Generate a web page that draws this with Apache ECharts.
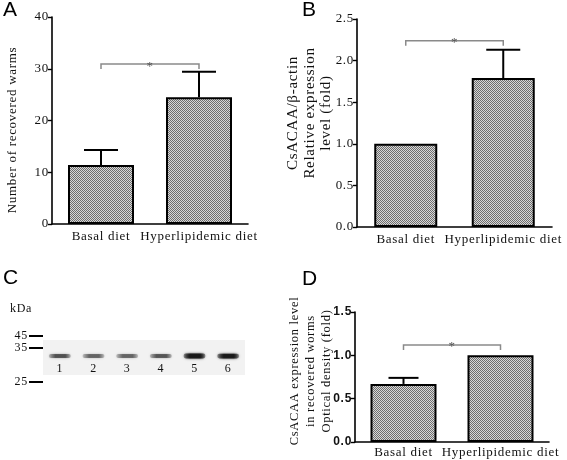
<!DOCTYPE html>
<html><head><meta charset="utf-8">
<script src="https://cdn.jsdelivr.net/npm/echarts@6/dist/echarts.min.js"></script>
<style>html,body{margin:0;padding:0;background:#fff}#c{width:567px;height:460px}</style>
</head><body><div id="c"></div>
<script>
// ---------- data ----------
const categories = ['Basal diet', 'Hyperlipidemic diet'];
// Panel A: number of recovered worms (mean, SEM)
const wormMean = [11.4, 24.5];
const wormSem = [2.9, 4.9];
const wormSigLevel = 30.9;
// Panel B: CsACAA / beta-actin relative expression (fold)
const mrnaMean = [1.0, 1.79];
const mrnaSem = [0, 0.34];
const mrnaSigLevel = 2.24;
// Panel D: CsACAA expression in recovered worms, optical density (fold)
const odMean = [0.67, 1.0];
const odSem = [0.07, 0];
const odSigLevel = 1.12;
// Panel C: western blot
const blotLanes = ['1', '2', '3', '4', '5', '6'];
const bandIntensity = [0.6, 0.52, 0.52, 0.58, 0.92, 0.9];
const bandMigration = [30, 30, 30, 30, 30, 30];
const markerKda = [45, 35, 25];
const markerMigration = [10, 22, 56];
const blotArea = [14, 49];          // migration range of the membrane strip
const laneLabelMigration = 43;

// ---------- letter spacing for the serif GraphPad look ----------
(function () {
  const orig = HTMLCanvasElement.prototype.getContext;
  HTMLCanvasElement.prototype.getContext = function () {
    const c = orig.apply(this, arguments);
    if (c && 'letterSpacing' in c) c.letterSpacing = '0.7px';
    return c;
  };
})();

function makePattern() {
  const c = document.createElement('canvas');
  c.width = 2; c.height = 2;
  const x = c.getContext('2d');
  x.fillStyle = '#d8d8d8'; x.fillRect(0, 0, 2, 2);
  x.fillStyle = '#6e6e6e'; x.fillRect(0, 0, 1, 1); x.fillRect(1, 1, 1, 1);
  return c;
}
const pattern = { image: makePattern(), repeat: 'repeat' };

const SERIF = '"Liberation Serif", "Times New Roman", serif';
const SANS = '"Liberation Sans", Arial, sans-serif';

function xAxisFor(gi, margin) {
  return {
    type: 'category', gridIndex: gi, data: categories,
    axisLine: { lineStyle: { color: '#000', width: 1.6 } },
    axisTick: { alignWithLabel: true, length: 4, lineStyle: { color: '#000', width: 1.4 } },
    axisLabel: { fontFamily: SERIF, fontSize: 13, color: '#111', margin: margin, interval: 0, hideOverlap: false },
    splitLine: { show: false }
  };
}
function yAxisFor(gi, max, interval, labelFont, fmt) {
  return {
    type: 'value', gridIndex: gi, min: 0, max: max, interval: interval,
    axisLine: { show: true, lineStyle: { color: '#000', width: 1.6 } },
    axisTick: { show: true, length: 4, lineStyle: { color: '#000', width: 1.4 } },
    splitLine: { show: false },
    axisLabel: Object.assign({ color: '#111', margin: 3, formatter: fmt }, labelFont)
  };
}

function barSeries(gi, data, width) {
  return {
    type: 'bar', xAxisIndex: gi, yAxisIndex: gi, data: data, barWidth: width,
    itemStyle: { color: pattern, borderColor: '#000', borderWidth: 2 },
    silent: true, animation: false
  };
}
function errorSeries(gi, mean, sem, cap) {
  return {
    type: 'custom', xAxisIndex: gi, yAxisIndex: gi, animation: false, silent: true, z: 3,
    data: mean.map((m, i) => [i, m, sem[i]]),
    renderItem: function (params, api) {
      const s = api.value(2);
      if (!s) return null;
      const p0 = api.coord([api.value(0), api.value(1)]);
      const p1 = api.coord([api.value(0), api.value(1) + s]);
      const st = { stroke: '#000', lineWidth: 2 };
      return { type: 'group', children: [
        { type: 'line', shape: { x1: p0[0], y1: p0[1], x2: p1[0], y2: p1[1] }, style: st },
        { type: 'line', shape: { x1: p1[0] - cap, y1: p1[1], x2: p1[0] + cap, y2: p1[1] }, style: st }
      ] };
    }
  };
}
function sigSeries(gi, level) {
  return {
    type: 'custom', xAxisIndex: gi, yAxisIndex: gi, animation: false, silent: true, z: 3,
    data: [[0, 1, level]],
    renderItem: function (params, api) {
      const a = api.coord([api.value(0), api.value(2)]);
      const b = api.coord([api.value(1), api.value(2)]);
      return { type: 'group', children: [
        { type: 'polyline', shape: { points: [[a[0], a[1] + 5], [a[0], a[1]], [b[0], b[1]], [b[0], b[1] + 5]] },
          style: { stroke: '#8a8a8a', lineWidth: 1.5, fill: null } },
        { type: 'text', style: { text: '*', x: (a[0] + b[0]) / 2, y: a[1] + 2, align: 'center', verticalAlign: 'middle',
          font: '13px ' + SERIF, fill: '#555' } }
      ] };
    }
  };
}
function vTitle(text, x, y, size, lh) {
  return { type: 'text', x: x, y: y, rotation: Math.PI / 2, silent: true,
    style: { text: text, align: 'center', verticalAlign: 'middle', font: size + 'px ' + SERIF, fill: '#111', lineHeight: lh } };
}

const chart = echarts.init(document.getElementById('c'), null, { renderer: 'canvas' });
const option = {
  backgroundColor: '#fff',
  animation: false,
  grid: [
    { left: 52, top: 17, width: 196, height: 207 },
    { left: 357, top: 19, width: 195, height: 208 },
    { left: 355, top: 312, width: 194, height: 130 },
    { left: 43, top: 326, width: 202, height: 66 }
  ],
  xAxis: [
    xAxisFor(0, 6), xAxisFor(1, 6), xAxisFor(2, 4),
    { type: 'category', gridIndex: 3, data: blotLanes, show: false }
  ],
  yAxis: [
    yAxisFor(0, 40, 10, { fontFamily: SERIF, fontSize: 13 }),
    yAxisFor(1, 2.5, 0.5, { fontFamily: SERIF, fontSize: 13 }, v => v.toFixed(1)),
    yAxisFor(2, 1.5, 0.5, { fontFamily: SANS, fontSize: 12, fontWeight: 'bold' }, v => v.toFixed(1)),
    { type: 'value', gridIndex: 3, min: 0, max: 66, inverse: true, show: false }
  ],
  series: [
    barSeries(0, wormMean, 66), errorSeries(0, wormMean, wormSem, 17), sigSeries(0, wormSigLevel),
    barSeries(1, mrnaMean, 63), errorSeries(1, mrnaMean, mrnaSem, 17), sigSeries(1, mrnaSigLevel),
    barSeries(2, odMean, 66), errorSeries(2, odMean, odSem, 15), sigSeries(2, odSigLevel),
    // membrane strip
    {
      type: 'custom', xAxisIndex: 3, yAxisIndex: 3, animation: false, silent: true, z: 1,
      data: [[0, blotArea[0], blotArea[1]]],
      renderItem: function (params, api) {
        const cs = params.coordSys;
        const y0 = api.coord([0, api.value(1)])[1];
        const y1 = api.coord([0, api.value(2)])[1];
        return { type: 'rect', shape: { x: cs.x, y: y0, width: cs.width, height: y1 - y0 },
          style: { fill: '#f2f2f2' } };
      }
    },
    // molecular weight markers
    {
      type: 'custom', xAxisIndex: 3, yAxisIndex: 3, animation: false, silent: true, z: 2,
      data: markerKda.map((k, i) => [0, markerMigration[i], k]),
      renderItem: function (params, api) {
        const cs = params.coordSys;
        const y = api.coord([0, api.value(1)])[1];
        return { type: 'group', children: [
          { type: 'line', shape: { x1: cs.x - 14, y1: y, x2: cs.x, y2: y }, style: { stroke: '#000', lineWidth: 2 } },
          { type: 'text', style: { text: String(api.value(2)), x: cs.x - 15, y: y, align: 'right', verticalAlign: 'middle',
            font: '12px ' + SERIF, fill: '#111' } }
        ] };
      }
    },
    // bands
    {
      type: 'custom', xAxisIndex: 3, yAxisIndex: 3, animation: false, silent: true, z: 3,
      data: bandIntensity.map((v, i) => [i, bandMigration[i], v]),
      renderItem: function (params, api) {
        const p = api.coord([api.value(0), api.value(1)]);
        const k = api.value(2);
        const h = 2.5 + 2.5 * k;
        const c = 'rgba(20,20,20,' + k + ')';
        const e = 'rgba(20,20,20,' + (k * 0.35) + ')';
        const ly = api.coord([api.value(0), laneLabelMigration])[1];
        return { type: 'group', children: [
          { type: 'rect', shape: { x: p[0] - 11, y: p[1] - h / 2, width: 22, height: h, r: h / 2 },
            style: { fill: new echarts.graphic.LinearGradient(0, 0, 1, 0, [
              { offset: 0, color: e }, { offset: 0.3, color: c }, { offset: 0.75, color: c }, { offset: 1, color: e }]),
              shadowBlur: 2.5, shadowColor: c } },
          { type: 'text', style: { text: blotLanes[api.value(0)], x: p[0], y: ly, align: 'center', verticalAlign: 'middle',
            font: '12px ' + SERIF, fill: '#111' } }
        ] };
      }
    }
  ],
  graphic: [
    { type: 'text', left: 3, top: -1, style: { text: 'A', font: '21px ' + SANS, fill: '#000' } },
    { type: 'text', left: 302, top: -1, style: { text: 'B', font: '21px ' + SANS, fill: '#000' } },
    { type: 'text', left: 3, top: 267, style: { text: 'C', font: '21px ' + SANS, fill: '#000' } },
    { type: 'text', left: 302, top: 268, style: { text: 'D', font: '21px ' + SANS, fill: '#000' } },
    { type: 'text', left: 10, top: 302, style: { text: 'kDa', font: '12px ' + SERIF, fill: '#111' } },
    vTitle('Number of recovered warms', 13, 130, 13, 16),
    vTitle('CsACAA/β-actin\nRelative expression\nlevel (fold)', 310, 113, 15, 16.5),
    vTitle('CsACAA expression level\nin recovered worms\nOptical density (fold)', 311, 371, 12.5, 16)
  ]
};
chart.setOption(option);
</script>
</body></html>
